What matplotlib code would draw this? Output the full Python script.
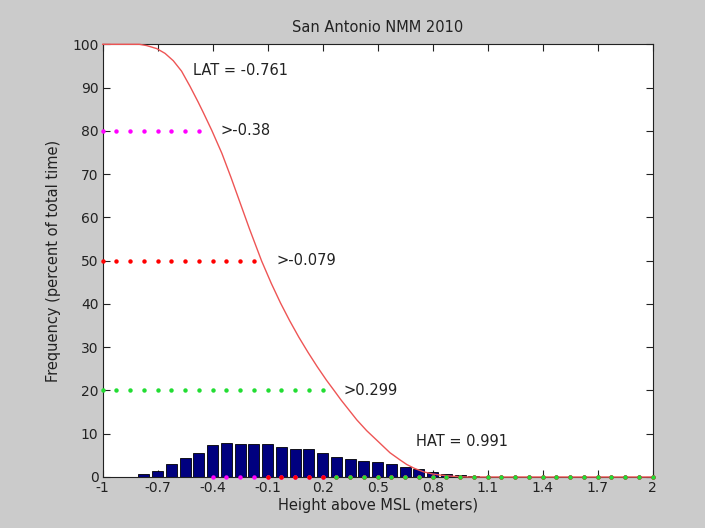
import matplotlib
matplotlib.use("Agg")
import matplotlib.pyplot as plt
import numpy as np

# ---- data ----
bin_centers = [-1.0, -0.925, -0.85, -0.775, -0.7, -0.625, -0.55, -0.475, -0.4, -0.325,
               -0.25, -0.175, -0.1, -0.025, 0.05, 0.125, 0.2, 0.275, 0.35, 0.425,
               0.5, 0.575, 0.65, 0.725, 0.8, 0.875, 0.95, 1.025, 1.1, 1.175,
               1.25, 1.325, 1.4, 1.475, 1.55, 1.625, 1.7, 1.775, 1.85, 1.925, 2.0]
freq_pct = [0, 0, 0, 0.6, 1.4, 3.0, 4.5, 5.6, 7.3, 7.9,
            7.7, 7.7, 7.7, 6.9, 6.4, 6.4, 5.6, 4.7, 4.2, 3.8,
            3.5, 2.9, 2.4, 1.8, 1.2, 0.8, 0.5, 0.15, 0, 0,
            0, 0, 0, 0, 0, 0, 0, 0, 0, 0, 0]

# exceedance curve (percent of time water level exceeds height)
curve_x = [-1.0, -0.80, -0.76, -0.705, -0.66, -0.615, -0.57, -0.524, -0.48, -0.451,
           -0.405, -0.35, -0.30, -0.25, -0.20, -0.133, -0.08, -0.03, 0.02, 0.07,
           0.12, 0.17, 0.22, 0.262, 0.30, 0.386, 0.44, 0.495, 0.567, 0.62,
           0.658, 0.70, 0.749, 0.80, 0.84, 0.90, 0.95, 0.991, 2.0]
curve_y = [100, 100, 99.7, 99.0, 97.9, 96.2, 93.8, 90.3, 86.7, 84.2,
           80.1, 74.8, 69.2, 63.3, 57.4, 49.9, 44.7, 40.2, 36.1, 32.3,
           28.8, 25.5, 22.4, 20.0, 17.8, 13.2, 10.7, 8.5, 5.6, 4.0,
           2.9, 2.0, 1.2, 0.7, 0.45, 0.2, 0.07, 0, 0]

levels = [80, 50, 20]
level_cutoffs = [-0.475, -0.175, 0.2]
level_labels = ['>-0.38', '>-0.079', '>0.299']
level_colors = ['#ff00ff', '#ff0000', '#22dd33']
level_label_x = [-0.36, -0.05, 0.316]

lat_text = 'LAT = -0.761'
hat_text = 'HAT = 0.991'
xtick_vals = [-1, -0.7, -0.4, -0.1, 0.2, 0.5, 0.8, 1.1, 1.4, 1.7, 2]
xtick_labels = ['-1', '-0.7', '-0.4', '-0.1', '0.2', '0.5', '0.8', '1.1', '1.4', '1.7', '2']
ytick_vals = [0, 10, 20, 30, 40, 50, 60, 70, 80, 90, 100]

# ---- figure ----
fig = plt.figure(figsize=(7.05, 5.28), dpi=100, facecolor='#cbcbcb')
ax = fig.add_axes([0.1457, 0.0966, 0.7801, 0.8195])
ax.set_facecolor('white')

ax.bar(bin_centers, freq_pct, width=0.06, color='#00007f', edgecolor='black',
       linewidth=0.6, zorder=2)

centers = np.array(bin_centers)
for lev, cut, col in zip(levels, level_cutoffs, level_colors):
    yy = np.where(centers <= cut + 1e-9, lev, 0)
    ax.plot(centers, yy, linestyle='none', marker='o', markersize=3.2,
            markeredgewidth=0, color=col, clip_on=False, zorder=4)

ax.plot(curve_x, curve_y, color='#ee5555', linewidth=1.0, clip_on=False, zorder=3)

fs = 10.5
for lev, lab, lx in zip(levels, level_labels, level_label_x):
    ax.text(lx, lev, lab, fontsize=fs, ha='left', va='center', color='#222222')
ax.text(-0.51, 94.0, lat_text, fontsize=fs, ha='left', va='center', color='#222222')
ax.text(0.71, 8.3, hat_text, fontsize=fs, ha='left', va='center', color='#222222')

ax.set_xlim(-1, 2)
ax.set_ylim(0, 100)
ax.set_xticks(xtick_vals)
ax.set_xticklabels(xtick_labels)
ax.set_yticks(ytick_vals)
ax.tick_params(direction='in', top=True, right=True, length=5, width=0.8,
               labelsize=10, colors='#222222', pad=3)
for s in ax.spines.values():
    s.set_linewidth(0.8)
    s.set_color('#222222')

ax.set_title('San Antonio NMM 2010', fontsize=10.5, pad=9, color='#222222')
ax.set_xlabel('Height above MSL (meters)', fontsize=10.5, labelpad=2, color='#222222')
ax.set_ylabel('Frequency (percent of total time)', fontsize=10.5, labelpad=8, color='#222222')

fig.savefig('out.png', dpi=100, facecolor=fig.get_facecolor())
